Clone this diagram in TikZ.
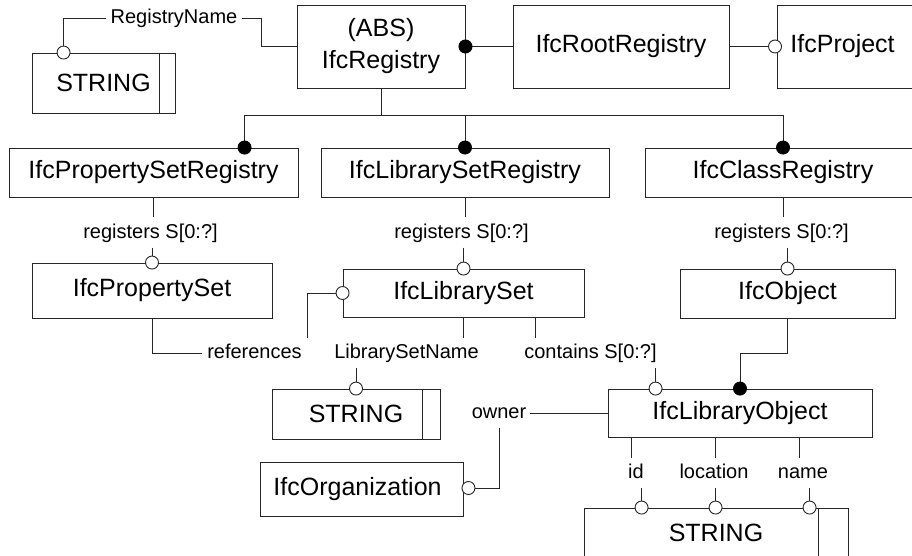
\documentclass[tikz,border=0pt]{standalone}
\usepackage{fontspec}
\setmainfont{Liberation Sans}
\usetikzlibrary{calc}

\tikzset{
  ln/.style={draw=black!85, line width=0.9pt},
  entity/.style={ln, rectangle, inner sep=0pt, font=\fontsize{25}{32}\selectfont, align=center},
  attr/.style={inner xsep=4pt, inner ysep=0pt, minimum height=30pt,
    text height=15pt, text depth=4pt, font=\fontsize{20}{24}\selectfont},
  opendot/.style={ln, fill=white},
  fulldot/.style={fill=black},
}

\begin{document}
\begin{tikzpicture}[x=1pt,y=-1pt]
\useasboundingbox (0,0) rectangle (912,556);
\clip (0,0) rectangle (912,556);
\fill[white] (0,0) rectangle (912,556);

% ---------- entities ----------
\node[entity, minimum width=143pt, minimum height=60pt] (str1) at (103.5,83) {STRING};
\node[entity, minimum width=168pt, minimum height=83pt] (reg) at (381,46.5) {(ABS)\\IfcRegistry};
\node[entity, minimum width=216pt, minimum height=83pt] (root) at (621,46.5) {IfcRootRegistry};
\node[entity, anchor=west, minimum height=83pt, text width=150pt, align=left, inner xsep=13pt] (proj) at (777,46.5) {IfcProject};

\node[entity, minimum width=289pt, minimum height=49pt] (psreg) at (153.5,172.5) {IfcPropertySetRegistry};
\node[entity, minimum width=288pt, minimum height=49pt] (lsreg) at (465,172.5) {IfcLibrarySetRegistry};
\node[entity, minimum width=276pt, minimum height=49pt] (creg) at (783,172.5) {IfcClassRegistry};

\node[entity, minimum width=240pt, minimum height=55pt] (pset) at (152,290.5) {IfcPropertySet};
\node[entity, minimum width=241pt, minimum height=48pt] (lset) at (463.5,293) {IfcLibrarySet};
\node[entity, minimum width=215pt, minimum height=49pt] (obj) at (787.5,293.5) {IfcObject};

\node[entity, minimum width=168pt, minimum height=50pt] (str2) at (356,414) {STRING};
\node[entity, minimum width=264pt, minimum height=48pt] (lobj) at (740,413) {IfcLibraryObject};
\node[entity, minimum width=203pt, minimum height=54pt] (org) at (361.5,489) {IfcOrganization\hspace*{8pt}};
\node[entity, minimum width=264pt, minimum height=50pt] (str3) at (716,533) {STRING};

% simple-type bars
\draw[ln] ($(str1.north east)+(-16,0)$) -- ($(str1.south east)+(-16,0)$);
\draw[ln] ($(str2.north east)+(-18,0)$) -- ($(str2.south east)+(-18,0)$);
\draw[ln] ($(str3.north east)+(-30,0)$) -- ($(str3.south east)+(-30,0)$);

% ---------- attribute labels ----------
\node[attr] (lblRN) at (174,18) {RegistryName};
\node[attr] (r1) at (150.5,232.5) {registers S[0:?]};
\node[attr] (r2) at (461.5,232.5) {registers S[0:?]};
\node[attr] (r3) at (781.5,232.5) {registers S[0:?]};
\node[attr, inner xsep=5pt] (refs) at (254.5,353) {references};
\node[attr] (lsn) at (406.5,353) {LibrarySetName};
\node[attr] (cont) at (590.5,353) {contains S[0:?]};
\node[attr] (own) at (499,413) {owner};
\node[attr] (lid) at (636,473) {id};
\node[attr] (lloc) at (714,473) {location};
\node[attr] (lname) at (803,473) {name};

% ---------- connection points ----------
\coordinate (s1in) at ($(str1.north west)+(32,0)$);
\coordinate (projin) at ($(proj.west)+(-2,0)$);
\coordinate (bus) at (0,115);
\coordinate (psin) at ($(psreg.north west)+(236,0)$);
\coordinate (lsc) at ($(lset.south east)+(-49,0)$);
\coordinate (loin) at ($(lobj.north west)+(48,0)$);
\coordinate (orgin) at ($(org.east)+(5,-1)$);
\coordinate (oid) at ($(lobj.south west)+(24,0)$);
\coordinate (oloc) at ($(lobj.south west)+(108,0)$);
\coordinate (oname) at ($(lobj.south west)+(192,0)$);
\coordinate (sid) at ($(str3.north west)+(58,0)$);
\coordinate (sloc) at ($(str3.north west)+(132,0)$);
\coordinate (sname) at ($(str3.north west)+(226,0)$);

% ---------- connectors ----------
\draw[ln] (reg.west) -- ++(-35,0) |- (lblRN.east);
\draw[ln] (lblRN.west) -| (s1in);
\draw[ln] (reg.east) -- (root.west);
\draw[ln] (root.east) -- (projin);

% subtype tree of IfcRegistry
\draw[ln] (reg.south) -- (reg.south |- bus);
\draw[ln] (psin) |- (creg.north |- bus) -- (creg.north);
\draw[ln] (lsreg.north |- bus) -- (lsreg.north);

% registers
\draw[ln] (psreg.south) -- (psreg.south |- r1.north);
\draw[ln] (pset.north |- r1.south) -- (pset.north);
\draw[ln] (lsreg.south) -- (lsreg.south |- r2.north);
\draw[ln] (lset.north |- r2.south) -- (lset.north);
\draw[ln] (creg.south) -- (creg.south |- r3.north);
\draw[ln] (obj.north |- r3.south) -- (obj.north);

% references
\draw[ln] (pset.south) |- (refs.west);
\draw[ln] (refs.north east) |- (lset.west);

% LibrarySetName
\draw[ln] (lset.south) -- (lset.south |- lsn.north);
\draw[ln] (str2.north |- lsn.south) -- (str2.north);

% contains
\draw[ln] (lsc) -- (lsc |- cont.north);
\draw[ln] (loin |- cont.south) -- (loin);

% IfcObject subtype
\draw[ln] (obj.south) -- ++(0,35) -| (lobj.north);

% owner
\draw[ln] (lobj.west) -- (own.east);
\draw[ln] (own.south) |- (orgin);

% id, location, name
\draw[ln] (oid) -- (oid |- lid.north);
\draw[ln] (sid |- lid.south) -- (sid);
\draw[ln] (oloc) -- (oloc |- lloc.north);
\draw[ln] (sloc |- lloc.south) -- (sloc);
\draw[ln] (oname) -- (oname |- lname.north);
\draw[ln] (sname |- lname.south) -- (sname);

% ---------- relationship ends ----------
\foreach \p in {s1in, projin, pset.north, lset.north, obj.north, lset.west,
                str2.north, loin, orgin, sid, sloc, sname}
  \draw[opendot] (\p) circle[radius=6.5pt];
\foreach \p in {reg.east, psin, lsreg.north, creg.north, lobj.north}
  \fill[fulldot] (\p) circle[radius=7pt];
\end{tikzpicture}
\end{document}
